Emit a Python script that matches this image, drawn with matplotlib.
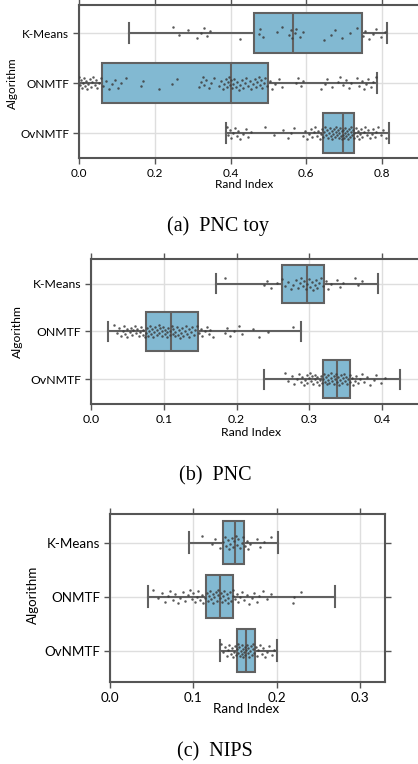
import numpy as np
import matplotlib
matplotlib.use('Agg')
import matplotlib.pyplot as plt

plt.rcParams['font.family'] = ['Lato', 'DejaVu Sans']

algorithms = ['K-Means', 'ONMTF', 'OvNMTF']

# box stats: (whisker low, q1, median, q3, whisker high)
toy_box = [(0.132, 0.463, 0.564, 0.746, 0.814),
           (0.000, 0.060, 0.402, 0.498, 0.786),
           (0.389, 0.645, 0.697, 0.725, 0.818)]
pnc_box = [(0.172, 0.262, 0.296, 0.320, 0.394),
           (0.023, 0.076, 0.110, 0.147, 0.288),
           (0.238, 0.318, 0.338, 0.355, 0.424)]
nips_box = [(0.095, 0.135, 0.150, 0.161, 0.201),
            (0.045, 0.115, 0.132, 0.148, 0.270),
            (0.132, 0.152, 0.163, 0.174, 0.200)]

# individual runs (strip points)
toy_kmeans = [0.249, 0.264, 0.287, 0.312, 0.322, 0.331, 0.338, 0.346, 0.426, 0.476, 0.479,
              0.485, 0.522, 0.535, 0.555, 0.559, 0.562, 0.570, 0.573, 0.583, 0.590, 0.646,
              0.665, 0.675, 0.693, 0.715, 0.733, 0.750, 0.756, 0.766, 0.775, 0.784, 0.797, 0.807]
toy_onmtf = [0.000, 0.003, 0.006, 0.008, 0.010, 0.012, 0.015, 0.018, 0.020, 0.024, 0.028, 0.031,
             0.035, 0.038, 0.041, 0.045, 0.048, 0.052, 0.058, 0.064, 0.071, 0.078, 0.086, 0.094,
             0.103, 0.112, 0.125, 0.163, 0.168, 0.210, 0.245, 0.258, 0.318, 0.322, 0.326, 0.330,
             0.336, 0.342, 0.348, 0.355, 0.370, 0.375, 0.380, 0.384, 0.388, 0.391, 0.394, 0.397,
             0.399, 0.402, 0.404, 0.407, 0.410, 0.414, 0.418, 0.421, 0.425, 0.429, 0.433, 0.437,
             0.441, 0.446, 0.450, 0.455, 0.460, 0.465, 0.468, 0.471, 0.474, 0.477, 0.480, 0.484,
             0.488, 0.492, 0.495, 0.503, 0.510, 0.518, 0.527, 0.535, 0.572, 0.578, 0.585, 0.591,
             0.640, 0.648, 0.655, 0.667, 0.683, 0.690, 0.698, 0.706, 0.712, 0.719, 0.733, 0.740,
             0.746, 0.752, 0.758, 0.763, 0.770, 0.776, 0.783]
toy_ovnmtf = [0.390, 0.394, 0.398, 0.402, 0.406, 0.411, 0.416, 0.420, 0.425, 0.432, 0.440, 0.447,
              0.455, 0.492, 0.515, 0.538, 0.551, 0.560, 0.568, 0.590, 0.597, 0.603, 0.608, 0.612,
              0.616, 0.620, 0.624, 0.628, 0.632, 0.635, 0.638, 0.641, 0.644, 0.647, 0.650, 0.652,
              0.655, 0.657, 0.660, 0.662, 0.664, 0.667, 0.669, 0.671, 0.673, 0.675, 0.677, 0.679,
              0.681, 0.683, 0.685, 0.687, 0.689, 0.691, 0.693, 0.695, 0.697, 0.698, 0.700, 0.702,
              0.703, 0.705, 0.707, 0.709, 0.711, 0.713, 0.715, 0.717, 0.719, 0.721, 0.723, 0.725,
              0.727, 0.730, 0.733, 0.736, 0.739, 0.742, 0.745, 0.748, 0.752, 0.756, 0.760, 0.764,
              0.768, 0.772, 0.776, 0.780, 0.785, 0.790, 0.796, 0.803, 0.810]

pnc_kmeans = [0.184, 0.237, 0.242, 0.247, 0.256, 0.262, 0.266, 0.270, 0.274, 0.278, 0.281, 0.284,
              0.287, 0.289, 0.291, 0.293, 0.295, 0.297, 0.299, 0.301, 0.303, 0.305, 0.307, 0.309,
              0.311, 0.313, 0.316, 0.319, 0.322, 0.326, 0.329, 0.338, 0.342, 0.346, 0.362, 0.366, 0.372]
pnc_onmtf = [0.031, 0.036, 0.039, 0.041, 0.044, 0.045, 0.047, 0.049, 0.050, 0.053, 0.055, 0.056,
             0.058, 0.061, 0.062, 0.063, 0.066, 0.067, 0.069, 0.071, 0.072, 0.074, 0.075, 0.077,
             0.078, 0.079, 0.081, 0.083, 0.084, 0.085, 0.087, 0.088, 0.090, 0.091, 0.093, 0.094,
             0.095, 0.097, 0.098, 0.099, 0.101, 0.102, 0.104, 0.105, 0.106, 0.108, 0.109, 0.111,
             0.112, 0.113, 0.115, 0.116, 0.118, 0.119, 0.121, 0.122, 0.124, 0.125, 0.127, 0.129,
             0.130, 0.132, 0.134, 0.135, 0.137, 0.139, 0.141, 0.143, 0.146, 0.148, 0.151, 0.153,
             0.156, 0.159, 0.162, 0.164, 0.167, 0.184, 0.187, 0.191, 0.196, 0.203, 0.207, 0.223,
             0.231, 0.243, 0.277]
pnc_ovnmtf = [0.266, 0.271, 0.276, 0.279, 0.283, 0.286, 0.288, 0.290, 0.292, 0.294, 0.296, 0.297,
              0.299, 0.301, 0.302, 0.304, 0.305, 0.307, 0.308, 0.310, 0.311, 0.313, 0.314, 0.316,
              0.317, 0.318, 0.320, 0.321, 0.322, 0.324, 0.325, 0.326, 0.327, 0.329, 0.330, 0.331,
              0.333, 0.334, 0.335, 0.336, 0.338, 0.339, 0.340, 0.342, 0.343, 0.344, 0.346, 0.347,
              0.349, 0.350, 0.352, 0.353, 0.355, 0.356, 0.358, 0.360, 0.362, 0.364, 0.366, 0.369,
              0.372, 0.375, 0.379, 0.383, 0.388, 0.392, 0.398, 0.404]

nips_kmeans = [0.110, 0.122, 0.126, 0.132, 0.135, 0.138, 0.139, 0.141, 0.143, 0.144, 0.146, 0.147,
               0.149, 0.151, 0.152, 0.154, 0.156, 0.158, 0.160, 0.162, 0.164, 0.166, 0.168, 0.176,
               0.180, 0.185, 0.193]
nips_onmtf = [0.052, 0.058, 0.062, 0.066, 0.069, 0.072, 0.075, 0.078, 0.081, 0.084, 0.087, 0.090,
              0.093, 0.096, 0.098, 0.100, 0.102, 0.104, 0.106, 0.108, 0.110, 0.112, 0.114, 0.116,
              0.117, 0.119, 0.120, 0.121, 0.123, 0.124, 0.125, 0.127, 0.128, 0.129, 0.130, 0.132,
              0.133, 0.134, 0.136, 0.137, 0.138, 0.140, 0.141, 0.142, 0.144, 0.145, 0.147, 0.148,
              0.150, 0.152, 0.154, 0.156, 0.158, 0.161, 0.164, 0.167, 0.170, 0.173, 0.176, 0.179,
              0.183, 0.188, 0.193, 0.219, 0.221, 0.229]
nips_ovnmtf = [0.133, 0.136, 0.138, 0.140, 0.142, 0.143, 0.145, 0.146, 0.147, 0.149, 0.150, 0.151,
               0.152, 0.153, 0.154, 0.155, 0.156, 0.157, 0.158, 0.158, 0.159, 0.160, 0.161, 0.162,
               0.162, 0.163, 0.164, 0.165, 0.166, 0.167, 0.168, 0.169, 0.170, 0.171, 0.172, 0.173,
               0.175, 0.176, 0.178, 0.180, 0.182, 0.184, 0.186, 0.188, 0.191, 0.194, 0.197]

W, H = 418, 764
box_color = '#82B9D2'
line_color = '#616161'


def fig_rect(left, top, right, bottom):
    # pixel box -> figure fraction
    return [left / W, 1 - bottom / H, (right - left) / W, (bottom - top) / H]


def draw_panel(ax, boxes, points, xlim, ylim, xticks, fs):
    stats = [dict(whislo=b[0], q1=b[1], med=b[2], q3=b[3], whishi=b[4], label=a)
             for b, a in zip(boxes, algorithms)]
    ax.bxp(stats, positions=range(3), widths=0.8, orientation='horizontal',
           patch_artist=True, showfliers=False,
           boxprops=dict(facecolor=box_color, edgecolor=line_color, linewidth=1.5),
           medianprops=dict(color=line_color, linewidth=1.5),
           whiskerprops=dict(color=line_color, linewidth=1.5),
           capprops=dict(color=line_color, linewidth=1.5))
    for i, vals in enumerate(points):
        n = len(vals)
        jit = ((np.arange(n) * 0.618034) % 1 - 0.5) * 0.26
        ax.scatter(vals, i + jit, s=3.2, color='#3d3d3d', alpha=0.85, lw=0, zorder=5)
    ax.set_xlim(*xlim)
    ax.set_ylim(*ylim)
    ax.set_xticks(xticks)
    ax.set_xticklabels([f'{t:.1f}' for t in xticks])
    ax.set_yticks(range(3))
    ax.set_yticklabels(algorithms)
    ax.grid(True, color='#dedede', linewidth=1.0)
    ax.set_axisbelow(True)
    for s in ax.spines.values():
        s.set_color('#555555')
        s.set_linewidth(1.5)
    ax.tick_params(direction='out', length=4, width=1.0, color='#555555',
                   top=True, right=True, labelsize=fs, pad=3)
    ax.set_xlabel('Rand Index', fontsize=fs)
    ax.set_ylabel('Algorithm', fontsize=fs)


fig = plt.figure(figsize=(W / 100, H / 100), dpi=100)

ax1 = fig.add_axes(fig_rect(79, 5, 420, 158))
draw_panel(ax1, toy_box, [toy_kmeans, toy_onmtf, toy_ovnmtf], (0, 0.9), (2.5, -0.57),
           [0.0, 0.2, 0.4, 0.6, 0.8], 8.5)
ax2 = fig.add_axes(fig_rect(91, 259, 426, 404))
draw_panel(ax2, pnc_box, [pnc_kmeans, pnc_onmtf, pnc_ovnmtf], (0, 0.46), (2.52, -0.52),
           [0.0, 0.1, 0.2, 0.3, 0.4], 8.8)
ax3 = fig.add_axes(fig_rect(110, 514, 385, 682))
draw_panel(ax3, nips_box, [nips_kmeans, nips_onmtf, nips_ovnmtf], (0, 0.33), (2.58, -0.53),
           [0.0, 0.1, 0.2, 0.3], 9.6)

# axis label positions (pixel centres from the reference)
for ax, (xl, yl) in zip([ax1, ax2, ax3], [((244, 184), (12, 83)),
                                          ((251, 433), (17, 332)),
                                          ((246, 709), (33, 595))]):
    ax.xaxis.set_label_coords(xl[0] / W, 1 - xl[1] / H, transform=fig.transFigure)
    ax.xaxis.label.set_va('center')
    ax.yaxis.set_label_coords(yl[0] / W, 1 - yl[1] / H, transform=fig.transFigure)
    ax.yaxis.label.set_va('center')

captions = ['(a)  PNC toy', '(b)  PNC', '(c)  NIPS']
for cap, (cx, cy) in zip(captions, [(218, 226), (215, 476), (215, 752)]):
    fig.text(cx / W, 1 - cy / H, cap, ha='center', va='center',
             family='Liberation Serif', fontsize=14.5)

fig.savefig('out.png', dpi=100)
